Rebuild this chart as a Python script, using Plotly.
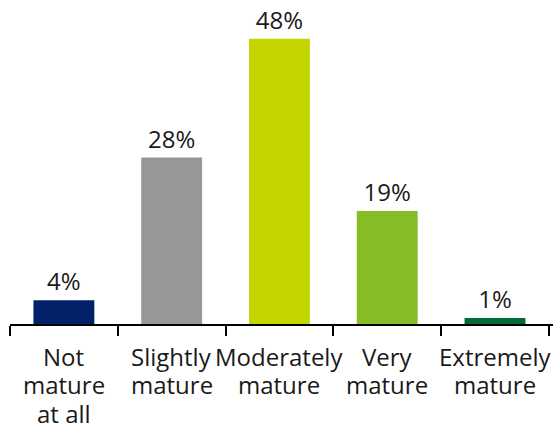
import plotly.graph_objects as go

# Category labels, one list of lines per bar
category_lines = [["Not", "mature", "at all"], ["Slightly", "mature"], ["Moderately", "mature"],
                  ["Very", "mature"], ["Extremely", "mature"]]
categories = [" ".join(lines) for lines in category_lines]
values = [4, 28, 48, 19, 1]
labels = ["4%", "28%", "48%", "19%", "1%"]
colors = ["#012169", "#979797", "#c4d600", "#86bc25", "#046a38"]

TEXT_COLOR = "#1a1a1a"
FONT = "Open Sans"

fig = go.Figure(go.Bar(
    x=categories,
    y=values,
    text=labels,
    textposition="outside",
    constraintext="none",
    textfont=dict(size=24, color=TEXT_COLOR, family=FONT),
    marker=dict(color=colors, line=dict(width=0)),
    width=0.565,
    cliponaxis=False,
))

# Multi-line category labels with tighter line spacing than Plotly's default
for cat, lines in zip(categories, category_lines):
    for i, line in enumerate(lines):
        fig.add_annotation(
            x=cat, xref="x", y=0, yref="paper",
            text=line, showarrow=False,
            xanchor="center", yanchor="middle",
            yshift=-(32 + 28.5 * i),
            font=dict(size=24, color=TEXT_COLOR, family=FONT),
        )

fig.update_layout(
    width=554, height=423,
    margin=dict(l=10, r=1, t=0, b=99),
    paper_bgcolor="white", plot_bgcolor="white",
    font=dict(family=FONT, size=24, color=TEXT_COLOR),
    showlegend=False,
)
fig.update_xaxes(
    showline=True, linecolor="black", linewidth=1.5,
    ticks="outside", tickson="boundaries", ticklen=10, tickwidth=1.5, tickcolor="black",
    showticklabels=False, automargin=False,
    showgrid=False,
)
fig.update_yaxes(visible=False, range=[0, 54.5], showgrid=False)

fig.write_html("out.html")
